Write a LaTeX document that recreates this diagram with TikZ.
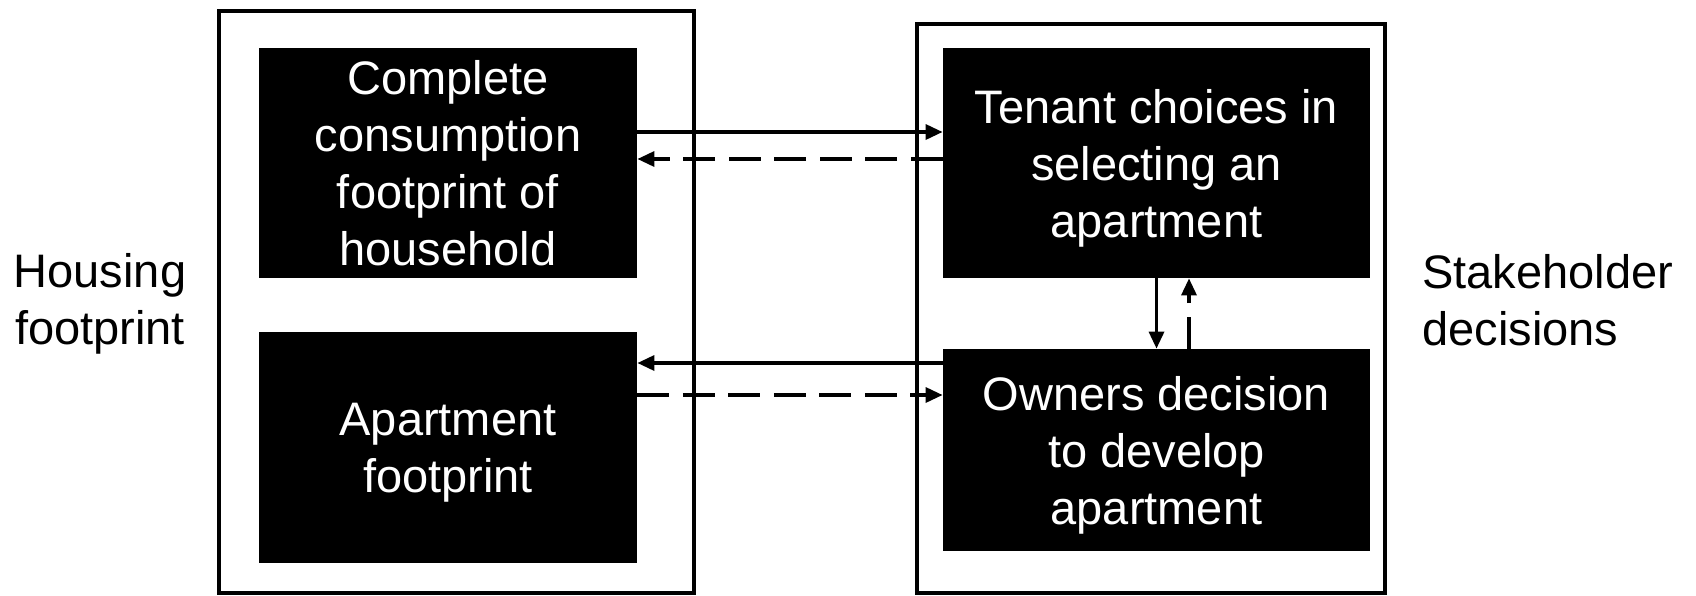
\documentclass[tikz,border=0pt]{standalone}
\usepackage{fontspec}
\setmainfont{Liberation Sans}
\usetikzlibrary{arrows.meta}
\begin{document}
\begin{tikzpicture}[x=0.5pt,y=-0.5pt,
  txt/.style={font=\fontsize{23.5pt}{28.5pt}\selectfont, align=center, inner sep=0pt, text depth=0pt},
  blk/.style={txt, fill=black, text=white},
  frame/.style={draw=black, line width=2.15pt, inner sep=0pt},
  conn/.style={line width=1.65pt, -{Triangle[length=8.5pt,width=7.5pt]}},
  dashconn/.style={conn, dash pattern=on 16pt off 6.75pt}]
\useasboundingbox (0,0) rectangle (1696,595);
% outer frames
\node[frame, minimum width=237.5pt, minimum height=291pt] (L) at (456.5,302) {};
\node[frame, minimum width=234pt, minimum height=284.5pt] (R) at (1151,308.5) {};
% black boxes
\node[blk, minimum width=189pt, minimum height=115pt] (A) at (448,163)
  {Complete\\consumption\\footprint of\\household};
\node[blk, minimum width=189pt, minimum height=115.5pt] (B) at (448,447.5)
  {Apartment\\footprint};
\node[blk, minimum width=213.5pt, minimum height=115pt] (C) at (1156.5,163)
  {Tenant choices in\\selecting an\\apartment};
\node[blk, minimum width=213.5pt, minimum height=101pt] (D) at (1156.5,450)
  {Owners decision\\to develop\\apartment};
% side labels
\node[txt] (hf) at (100,299) {Housing\\footprint};
\node[txt, align=left, anchor=west] (sd) at (1422,300) {Stakeholder\\decisions};
% connectors
\coordinate (a1) at ([yshift=15.5pt]A.east);
\coordinate (c1) at ([yshift=2pt]C.west);
\coordinate (b1) at ([yshift=42.25pt]B.east);
\coordinate (b2) at ([yshift=26.25pt]B.east);
\draw[conn] (a1) -- (a1 -| C.west);
\draw[dashconn] (c1) -- (c1 -| A.east);
\draw[conn] (b1 -| D.west) -- (b1);
\draw[dashconn] (b2) -- (b2 -| D.west);
\draw[conn] (C.south) -- (D.north);
\draw[dashconn] ([xshift=16.25pt]D.north) -- ([xshift=16.25pt]C.south);
\end{tikzpicture}
\end{document}
